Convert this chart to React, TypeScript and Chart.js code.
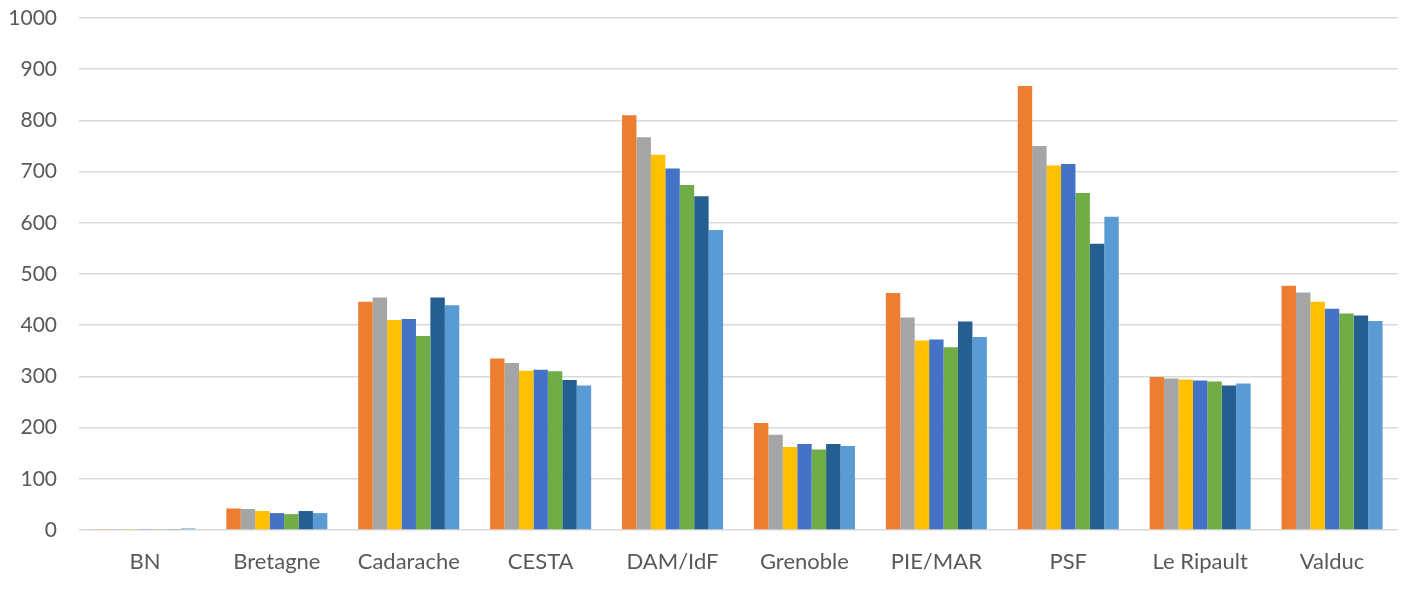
import React, { useEffect, useRef } from "react";
import { Chart, registerables } from "chart.js";

Chart.register(...registerables);

const categories = ["BN", "Bretagne", "Cadarache", "CESTA", "DAM/IdF", "Grenoble", "PIE/MAR", "PSF", "Le Ripault", "Valduc"];

const serie1 = [1, 42, 446, 335, 810, 209, 463, 867, 299, 477];
const serie2 = [1, 41, 454, 326, 767, 186, 415, 750, 296, 464];
const serie3 = [2, 37, 410, 311, 733, 162, 370, 712, 294, 446];
const serie4 = [1, 33, 412, 313, 706, 168, 372, 715, 292, 432];
const serie5 = [1, 31, 379, 310, 674, 157, 357, 658, 290, 423];
const serie6 = [1, 37, 454, 293, 652, 168, 407, 559, 282, 419];
const serie7 = [3, 33, 439, 282, 586, 164, 377, 612, 286, 408];

const seriesNames = ["Série 1", "Série 2", "Série 3", "Série 4", "Série 5", "Série 6", "Série 7"];
const seriesColors = ["#ED7D31", "#A5A5A5", "#FFC000", "#4472C4", "#70AD47", "#255E91", "#5B9BD5"];
const seriesValues = [serie1, serie2, serie3, serie4, serie5, serie6, serie7];

const yTicks = [0, 100, 200, 300, 400, 500, 600, 700, 800, 900, 1000];

export default function App() {
  const ref = useRef<HTMLCanvasElement | null>(null);

  useEffect(() => {
    if (!ref.current) return;
    const chart = new Chart(ref.current, {
      type: "bar",
      data: {
        labels: categories,
        datasets: seriesValues.map((vals, i) => ({
          label: seriesNames[i],
          data: vals,
          backgroundColor: seriesColors[i],
          borderWidth: 0,
          barPercentage: 1,
          categoryPercentage: 0.766,
        })),
      },
      options: {
        responsive: false,
        animation: false,
        layout: { padding: { top: 18, right: 9, left: 0, bottom: 0 } },
        plugins: { legend: { display: false }, tooltip: { enabled: false } },
        scales: {
          x: {
            grid: { display: false },
            border: { display: false },
            ticks: {
              color: "#595959",
              font: { family: "Lato", size: 22 },
              padding: 11,
              maxRotation: 0,
            },
            afterFit: (s: any) => {
              s.height = 60;
              s.paddingLeft = 0;
              s.paddingRight = 0;
            },
          },
          y: {
            min: 0,
            max: 1000,
            afterBuildTicks: (s: any) => {
              s.ticks = yTicks.map((v) => ({ value: v }));
            },
            grid: { color: "#D9D9D9", lineWidth: 1.5, drawTicks: false },
            border: { display: false },
            ticks: {
              color: "#595959",
              font: { family: "Lato", size: 21 },
              padding: 22,
              callback: (v: any) => String(v),
            },
            afterFit: (s: any) => {
              s.width = 79;
              s.paddingTop = 0;
              s.paddingBottom = 0;
            },
          },
        },
      },
    });
    return () => chart.destroy();
  }, []);

  return (
    <div style={{ position: "fixed", left: 0, top: 0, width: 1407, height: 590, background: "#fff" }}>
      <canvas ref={ref} width={1407} height={590} />
    </div>
  );
}
